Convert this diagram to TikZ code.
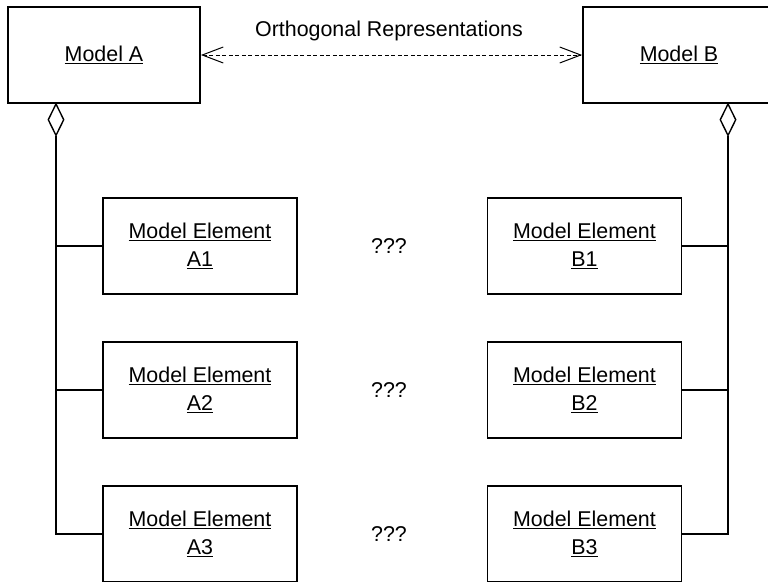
\documentclass[tikz,border=0pt]{standalone}
\usepackage{fontspec}
\setmainfont{Liberation Sans}
\usetikzlibrary{arrows.meta,shapes.geometric}

\tikzset{
  modelbox/.style={draw, line width=1.8pt, minimum width=192pt, minimum height=96pt, inner sep=0pt},
  elembox/.style={draw, line width=1.8pt, minimum width=194pt, minimum height=96pt, inner sep=0pt, align=center},
  agg/.style={draw, fill=white, diamond, line width=1.4pt, minimum width=16pt, minimum height=32pt, inner sep=0pt},
  link/.style={line width=1.4pt},
  rel/.style={line width=1pt, dash pattern=on 4pt off 2.5pt,
    {Straight Barb[length=21pt,width=16pt,line width=1pt]}-{Straight Barb[length=21pt,width=16pt,line width=1pt]}},
  txt/.style={font=\fontsize{21.4}{28}\selectfont}
}

\begin{document}
\begin{tikzpicture}[x=1pt,y=-1pt,every node/.append style={txt}]
  \useasboundingbox (0,0) rectangle (768,581);
  \clip (0,0) rectangle (768,581);
  \fill[white] (0,0) rectangle (768,581);

  % top-level models
  \node[modelbox] (ma) at (104,55) {\underline{Model A}};
  \node[modelbox] (mb) at (679,55) {\underline{Model B}};

  % relation between the two models
  \draw[rel] (ma.east) -- (mb.west);
  \node (orth) at (389,31) {Orthogonal Representations};

  % model elements
  \node[elembox] (a1) at (200,246) {\underline{Model Element}\\\underline{A1}};
  \node[elembox] (a2) at (200,390) {\underline{Model Element}\\\underline{A2}};
  \node[elembox] (a3) at (200,534) {\underline{Model Element}\\\underline{A3}};
  \node[elembox] (b1) at (584.5,246) {\underline{Model Element}\\\underline{B1}};
  \node[elembox] (b2) at (584.5,390) {\underline{Model Element}\\\underline{B2}};
  \node[elembox] (b3) at (584.5,534) {\underline{Model Element}\\\underline{B3}};

  % unknown correspondences
  \node (q1) at (389,246) {???};
  \node (q2) at (389,390) {???};
  \node (q3) at (389,534) {???};

  % aggregation diamonds
  \coordinate (da) at (56,103);
  \coordinate (db) at (728,103);
  \node[agg, anchor=north] (ga) at (da) {};
  \node[agg, anchor=north] (gb) at (db) {};

  % aggregation links
  \draw[link] (ga.south) |- (a1.west);
  \draw[link] (ga.south) |- (a2.west);
  \draw[link] (ga.south) |- (a3.west);
  \draw[link] (gb.south) |- (b1.east);
  \draw[link] (gb.south) |- (b2.east);
  \draw[link] (gb.south) |- (b3.east);
\end{tikzpicture}
\end{document}
